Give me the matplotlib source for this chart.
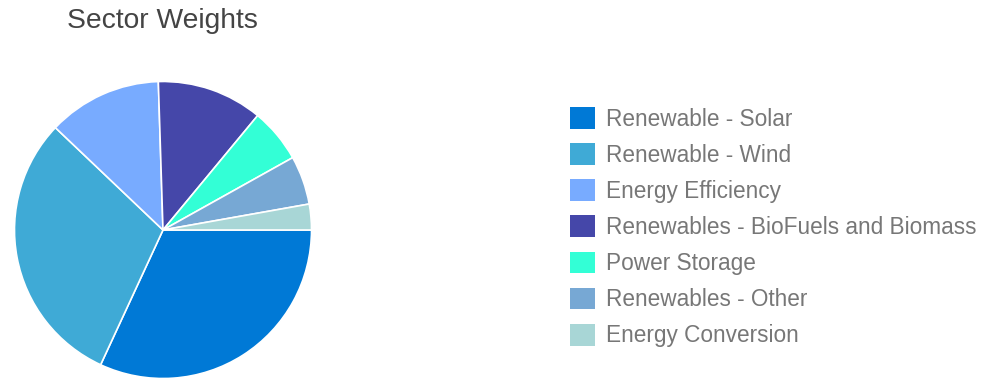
import matplotlib.pyplot as plt

plt.rcParams['font.family'] = ['Liberation Sans', 'DejaVu Sans']

sectors = ["Renewable - Solar", "Renewable - Wind", "Energy Efficiency",
           "Renewables - BioFuels and Biomass", "Power Storage",
           "Renewables - Other", "Energy Conversion"]
weights = [31.9, 30.2, 12.4, 11.5, 5.9, 5.3, 2.8]
colors = ["#0079D6", "#3FAAD6", "#78ABFF", "#4547A9", "#33FFD6", "#77A8D4", "#A8D6D6"]

fig = plt.figure(figsize=(9.88, 3.81), dpi=100)
ax = fig.add_axes([13 / 988, 1 / 381, 300 / 988, 300 / 381])

wedges, _ = ax.pie(weights, colors=colors, startangle=0, counterclock=False,
                   wedgeprops=dict(edgecolor="white", linewidth=1.2))
ax.set_xlim(-1.01, 1.01)
ax.set_ylim(-1.01, 1.01)
ax.set_aspect("equal")

fig.text(67 / 988, 1 - 21 / 381, "Sector Weights", fontsize=20.3, color="#444444",
         ha="left", va="center")

leg = fig.legend(wedges, sectors, loc="upper left",
                 bbox_to_anchor=(570 / 988, 1 - 107 / 381),
                 frameon=False, fontsize=16.3, handlelength=1.1, handleheight=1.1,
                 handletextpad=0.49, labelspacing=0.555, borderpad=0, borderaxespad=0)
for t in leg.get_texts():
    t.set_color("#777777")
for h in leg.legend_handles:
    h.set_edgecolor("none")

fig.savefig("out.png", dpi=100)
